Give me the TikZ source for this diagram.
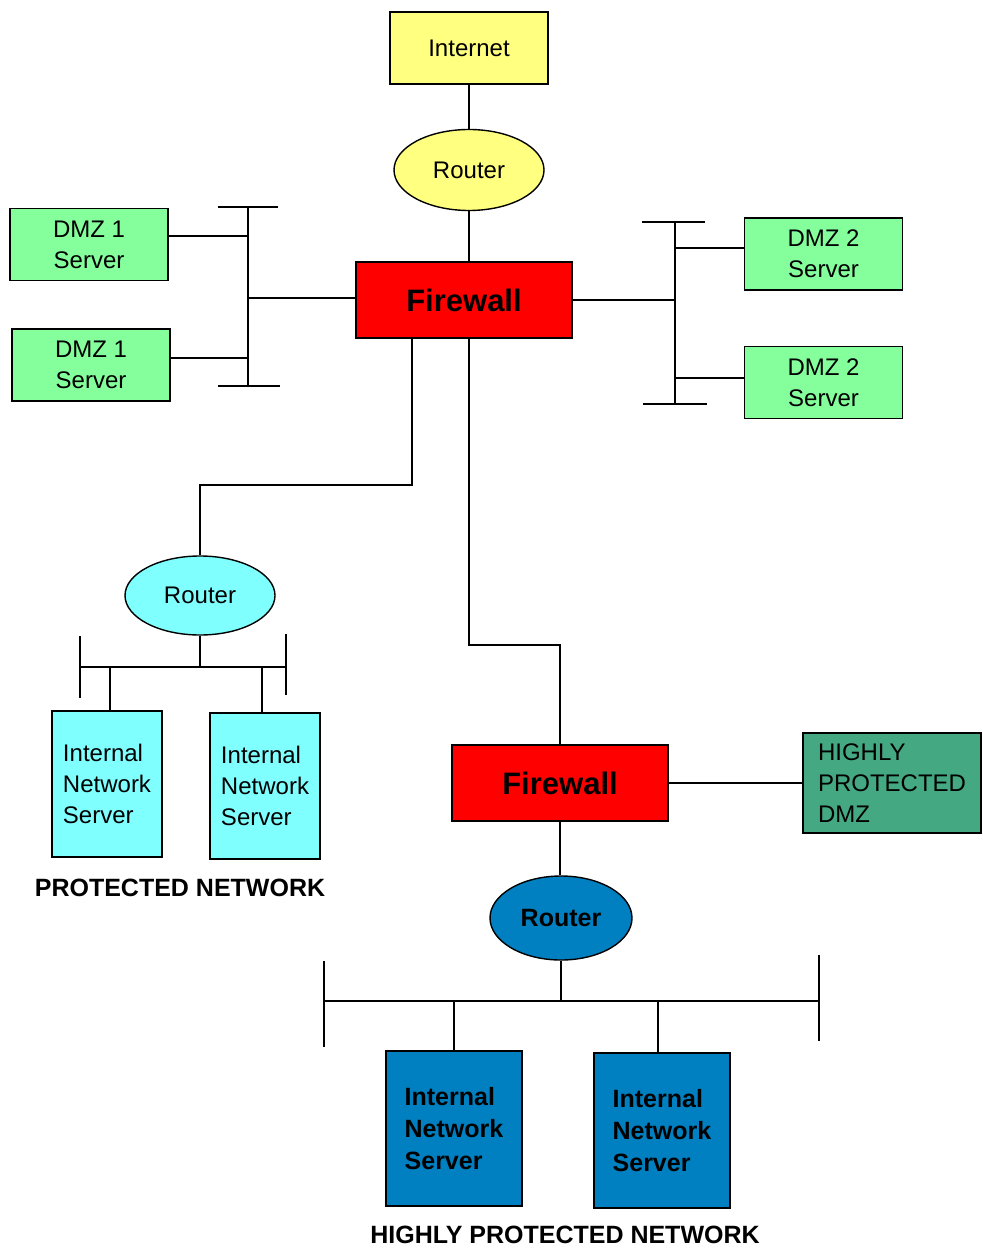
\documentclass[tikz,border=0pt]{standalone}
\usepackage{fontspec}
\setmainfont{Liberation Sans}
\usetikzlibrary{shapes.geometric}
\definecolor{netyellow}{HTML}{FFFF80}
\definecolor{fwred}{HTML}{FF0000}
\definecolor{dmzgreen}{HTML}{84FF9C}
\definecolor{hpgreen}{HTML}{44A882}
\definecolor{lancyan}{HTML}{80FFFF}
\definecolor{lanblue}{HTML}{0080C0}

\begin{document}
\begin{tikzpicture}[x=1pt, y=-1pt, line width=1.4pt,
box/.style={draw, inner sep=0pt, align=center, font=\fontsize{24}{31}\selectfont},
router/.style={ellipse, draw, inner sep=0pt, font=\fontsize{24}{31}\selectfont},
fw/.style={box, fill=fwred, minimum width=216, minimum height=76, font=\fontsize{31}{36}\selectfont\bfseries},
dmz/.style={box, fill=dmzgreen, minimum width=158, minimum height=72},
srv/.style={box, fill=lancyan, align=left, minimum width=110, minimum height=146},
hpsrv/.style={box, fill=lanblue, align=left, minimum width=136, minimum height=155, font=\fontsize{25}{32}\selectfont\bfseries},
caption/.style={font=\fontsize{25}{30}\selectfont\bfseries}]
\useasboundingbox (0,0) rectangle (982,1249);

% outside
\node[box, fill=netyellow, minimum width=158, minimum height=72] (inet) at (469,48) {Internet};
\node[router, fill=netyellow, minimum width=150, minimum height=81] (rt1) at (469,170) {Router};
\node[fw] (fw1) at (464,300) {Firewall};

% DMZ 1 and DMZ 2
\node[dmz] (dmz1a) at (89,244.5) {DMZ 1\\Server};
\node[dmz] (dmz1b) at (91,365) {DMZ 1\\Server};
\node[dmz] (dmz2a) at (823.5,254) {DMZ 2\\Server};
\node[dmz] (dmz2b) at (823.5,382.5) {DMZ 2\\Server};

% protected network
\node[router, fill=lancyan, minimum width=150, minimum height=79] (rt2) at (200,595.5) {Router};
\node[srv] (srv1a) at (107,784) {Internal\\Network\\Server};
\node[srv] (srv1b) at (265,786) {Internal\\Network\\Server};
\node[caption] (pnet) at (180,888) {PROTECTED NETWORK};

% highly protected network
\node[fw] (fw2) at (560,783) {Firewall};
\node[box, fill=hpgreen, align=left, minimum width=178, minimum height=100] (hpdmz) at (892,783) {HIGHLY\\PROTECTED\\DMZ};
\node[router, fill=lanblue, minimum width=142, minimum height=84, font=\fontsize{25}{30}\selectfont\bfseries] (rt3) at (561,918) {Router};
\node[hpsrv] (srv2a) at (454,1128.5) {Internal\\Network\\Server};
\node[hpsrv] (srv2b) at (662,1130.5) {Internal\\Network\\Server};
\node[caption] (hpnet) at (565,1235) {HIGHLY PROTECTED NETWORK};

% bus points
\coordinate (lbt) at (248,207);
\coordinate (lbb) at (248,386);
\coordinate (l1) at (248,236);
\coordinate (l2) at (248,358);
\coordinate (rbt) at (675,222);
\coordinate (rbb) at (675,404);
\coordinate (r1) at (675,248);
\coordinate (r2) at (675,378);
\coordinate (pl) at (80,667);
\coordinate (pr) at (286,667);
\coordinate (hl) at (324,1001);
\coordinate (hr) at (819,1001);
\coordinate (a1) at (412,485);
\coordinate (a2) at (200,485);
\coordinate (b1) at (469,645);
\coordinate (b2) at (560,645);

% connectors
\draw (inet) -- (rt1);
\draw (rt1) -- (fw1.north -| rt1);
\draw (lbt) -- (lbb);
\draw ([xshift=-30pt]lbt) -- ([xshift=30pt]lbt);
\draw ([xshift=-30pt]lbb) -- ([xshift=32pt]lbb);
\draw (fw1.west |- 0,298) -- (lbt |- 0,298);
\draw (dmz1a.east |- l1) -- (l1);
\draw (dmz1b.east |- l2) -- (l2);
\draw (rbt) -- (rbb);
\draw ([xshift=-33pt]rbt) -- ([xshift=30pt]rbt);
\draw ([xshift=-32pt]rbb) -- ([xshift=32pt]rbb);
\draw (fw1.east) -- (fw1.east -| rbt);
\draw (r1) -- (dmz2a.west |- r1);
\draw (r2) -- (dmz2b.west |- r2);
\draw (fw1.south -| a1) -- (a1) -- (a2) -- (rt2.north);
\draw (rt2.south) -- (rt2.south |- pl);
\draw (pl) -- (pr);
\draw ([yshift=31pt]pl) -- ([yshift=-31pt]pl);
\draw ([yshift=33pt]pr) -- ([yshift=-28pt]pr);
\draw (srv1a.north -| 110,0) -- (pl -| 110,0);
\draw (srv1b.north -| 262,0) -- (pr -| 262,0);
\draw (fw1.south -| b1) -- (b1) -- (b2) -- (fw2.north);
\draw (fw2.east) -- (hpdmz.west);
\draw (fw2.south) -- (fw2.south |- rt3.north);
\draw (rt3.south) -- (rt3.south |- hl);
\draw (hl) -- (hr);
\draw ([yshift=40pt]hl) -- ([yshift=-46pt]hl);
\draw ([yshift=46pt]hr) -- ([yshift=-40pt]hr);
\draw (srv2a.north -| 454,0) -- (hl -| 454,0);
\draw (srv2b.north -| 658,0) -- (hr -| 658,0);
\end{tikzpicture}
\end{document}
